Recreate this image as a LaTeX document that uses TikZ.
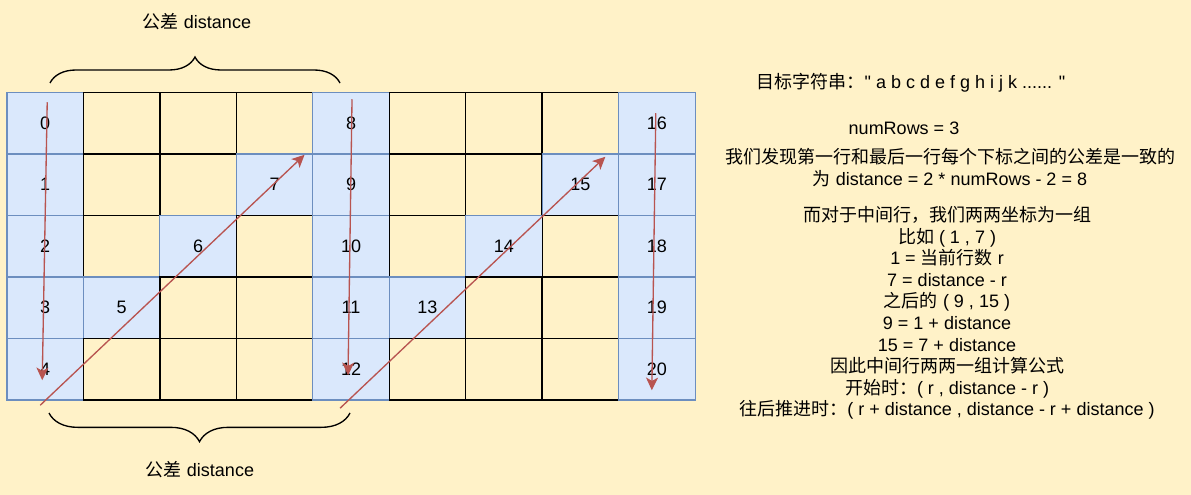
\documentclass[tikz,border=0pt]{standalone}
\usepackage{fontspec}
\setmainfont{Liberation Sans}[Ligatures=TeXOff]
\newfontfamily\cjk{Noto Sans CJK SC}
\newcommand{\zh}[1]{{\cjk #1}}
\usetikzlibrary{arrows.meta}
\usetikzlibrary{decorations.pathreplacing}
\definecolor{paper}{HTML}{FFF2C8}
\definecolor{hitfill}{HTML}{DAE8FC}
\definecolor{hitline}{HTML}{6C8EBF}
\definecolor{flowred}{HTML}{B85450}

\begin{document}
\begin{tikzpicture}[x=0.75pt, y=-0.75pt,
                font=\fontsize{13.5}{16.2}\selectfont,
                cell/.style={rectangle, draw=black, line width=1pt, fill=paper, minimum width=57.3pt, minimum height=46.1pt, inner sep=0pt},
                hit/.style={cell, draw=hitline, line width=0.8pt, fill=hitfill},
                flow/.style={draw=flowred, line width=1pt, -{Stealth[length=9.5pt, width=9pt, inset=2.5pt]}},
                curly/.style={draw, line width=1pt, decorate, decoration={brace, amplitude=#1}},
                note/.style={align=center, inner sep=0pt},
            ]
            \fill[paper] (0,0) rectangle (1191,495);
            \useasboundingbox (0,0) rectangle (1191,495);
            % zigzag grid, drawn column by column
            \foreach \i in {0,...,8}
              \foreach \j in {0,...,4} {
                \pgfmathtruncatemacro\k{mod(\i,4)}
                \pgfmathtruncatemacro\n{8*div(\i,4)+(\k==0 ? \j : 4+\k)}
                \pgfmathtruncatemacro\hit{(\k==0) || (\j==4-\k)}
                \ifnum\hit=1
                  \node[hit] (c-\i-\j) at ({7+76.45*(\i+0.5)}, {92.5+61.5*(\j+0.5)}) {\n};
                \else
                  \node[cell] (c-\i-\j) at ({7+76.45*(\i+0.5)}, {92.5+61.5*(\j+0.5)}) {};
                \fi
              }
            \path[flow] ([shift={(2,-21)}]c-0-0.center) -- ([shift={(-3,11)}]c-0-4.center);
            \path[flow] ([shift={(-5,36)}]c-0-4.center) -- ([shift={(30,-30)}]c-3-1.center);
            \path[flow] ([shift={(1,-24)}]c-4-0.center) -- ([shift={(-3,6)}]c-4-4.center);
            \path[flow] ([shift={(-11,39)}]c-4-4.center) -- ([shift={(25,-28)}]c-7-1.center);
            \path[flow] ([shift={(-1,-10)}]c-8-0.center) -- ([shift={(-5,21)}]c-8-4.center);
            % period braces
            \path[curly=19.5pt] (50,83) -- (340,83);
            \path[curly=21.5pt] (350,413) -- (49,413);
            \node (top-lbl) at (197,22) {\zh{公差} distance};
            \node (bot-lbl) at (200,470) {\zh{公差} distance};
            % explanation
            \node[note] (target) at (911,83) {\zh{目标字符串：}" a b c d e f g h i j k ...... "};
            \node[note] (rows) at (904,128) {numRows = 3};
            \node[note] (period) at (950,167.5) {\zh{我们发现第一行和最后一行每个下标之间的公差是一致的}\\
                \zh{为} distance = 2 * numRows - 2 = 8};
            \node[note] (middle) at (947,313) {\zh{而对于中间行，我们两两坐标为一组}\\
                \zh{比如} ( 1 , 7 )\\
                1 = \zh{当前行数} r\\
                7 = distance - r\\
                \zh{之后的} ( 9 , 15 )\\
                9 = 1 + distance\\
                15 = 7 + distance\\
                \zh{因此中间行两两一组计算公式}\\
                \zh{开始时：}( r , distance - r )\\
                \zh{往后推进时：}( r + distance , distance - r + distance )};
\end{tikzpicture}
\end{document}
